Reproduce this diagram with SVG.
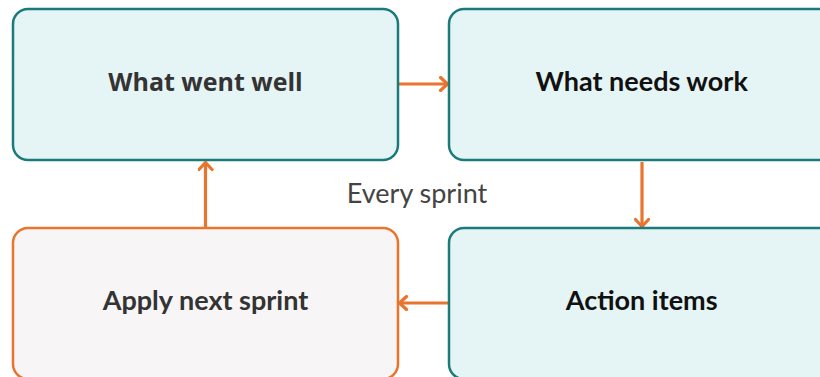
<svg xmlns="http://www.w3.org/2000/svg" width="820" height="377" viewBox="0 0 820 377">
<defs>
<style>
.box{stroke-width:2.5}
.teal{fill:#e5f4f4;stroke:#1b7a7a}
.orange{fill:#f7f5f6;stroke:#e8742e}
.lbl{font-weight:bold;text-anchor:middle}
.os{font-family:"Open Sans","Noto Sans",sans-serif;font-size:25px;fill:#333}
.cal{font-family:Lato,"Open Sans",sans-serif;font-size:27px}
.edge{stroke:#e8742e;stroke-width:3.2;fill:none}
</style>
<marker id="ah" viewBox="0 0 16 16" refX="12.5" refY="8" markerWidth="16" markerHeight="16" markerUnits="userSpaceOnUse" orient="auto">
<path d="M5,1.5 L12,8 L5,14.5" fill="none" stroke="#e8742e" stroke-width="3.2" stroke-linecap="round" stroke-linejoin="round"/>
</marker>
</defs>
<rect width="820" height="377" fill="#ffffff"/>
<g id="connectors">
<line class="edge" x1="399" y1="84" x2="448" y2="84" marker-end="url(#ah)"/>
<line class="edge" x1="642" y1="162" x2="642" y2="227" marker-end="url(#ah)"/>
<line class="edge" x1="448" y1="303" x2="399" y2="303" marker-end="url(#ah)"/>
<line class="edge" x1="205.5" y1="227" x2="205.5" y2="162" marker-end="url(#ah)"/>
</g>
<g id="well">
<rect class="box teal" x="13" y="9" width="385" height="151" rx="15"/>
<text class="lbl os" x="205.5" y="90.5">What went well</text>
</g>
<g id="needs">
<rect class="box teal" x="449" y="9" width="385" height="151" rx="15"/>
<text class="lbl cal" x="641.7" y="91" fill="#111">What needs work</text>
</g>
<g id="actions">
<rect class="box teal" x="449" y="228" width="385" height="151" rx="15"/>
<text class="lbl cal" x="641.7" y="310" fill="#111">Action items</text>
</g>
<g id="apply">
<rect class="box orange" x="13" y="228" width="385" height="151" rx="15"/>
<text class="lbl cal" x="205.5" y="310" fill="#333">Apply next sprint</text>
</g>
<text x="417" y="202.5" text-anchor="middle" font-family="Lato,'Open Sans',sans-serif" font-size="27" fill="#444">Every sprint</text>
</svg>
